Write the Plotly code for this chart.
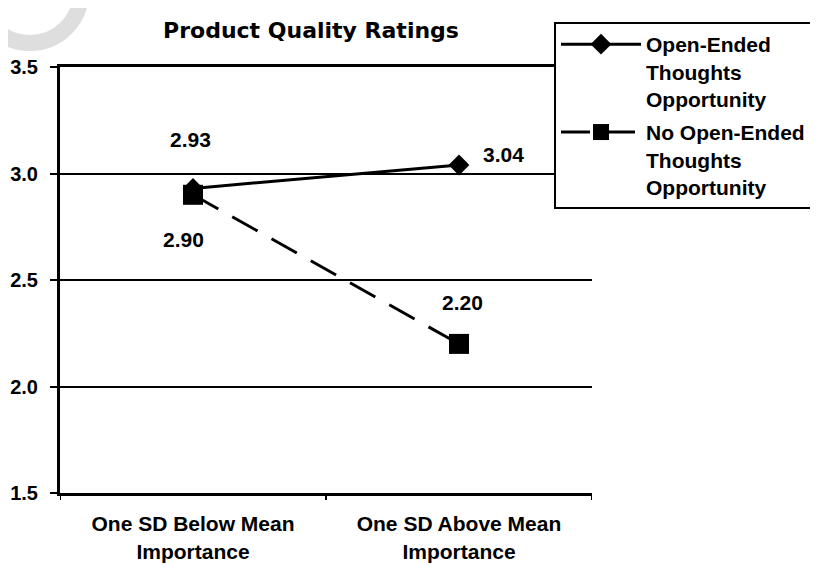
import plotly.graph_objects as go

categories = ["One SD Below Mean<br>Importance", "One SD Above Mean<br>Importance"]
open_ended = [2.93, 3.04]
no_open_ended = [2.90, 2.20]
series_names = ["Open-Ended<br>Thoughts<br>Opportunity", "No Open-Ended<br>Thoughts<br>Opportunity"]
y_ticks = [1.5, 2.0, 2.5, 3.0, 3.5]

FONT = "Liberation Sans, Arial, sans-serif"
TFONT = "DejaVu Sans, Liberation Sans, sans-serif"
OFF = 8  # default page margin of the browser
W, H = 818 - OFF, 567 - OFF
PL, PR, PT, PB = 60, 592, 67, 493  # plot area in reference pixels
PW, PH = PR - PL, PB - PT
xs = [0, 1]

fig = go.Figure()
fig.add_trace(go.Scatter(
    x=xs, y=open_ended, name=f"<b>{series_names[0]}</b>", mode="lines+markers",
    legendgroup="a",
    line=dict(color="black", width=3),
    marker=dict(symbol="diamond", size=16, color="black"),
))
fig.add_trace(go.Scatter(
    x=xs, y=no_open_ended, name=f"<b>{series_names[1]}</b>", mode="lines+markers",
    legendgroup="b",
    line=dict(color="black", width=3, dash="29px,16px"),
    marker=dict(symbol="square", size=20, color="black"),
))

lab_font = dict(family=FONT, size=21, color="black")
fig.add_annotation(x=xs[0], y=open_ended[0], text=f"<b>{open_ended[0]:.2f}</b>", showarrow=False,
                   xshift=-3, yshift=49, font=lab_font)
fig.add_annotation(x=xs[1], y=open_ended[1], text=f"<b>{open_ended[1]:.2f}</b>", showarrow=False,
                   xshift=44, yshift=10, font=lab_font)
fig.add_annotation(x=xs[0], y=no_open_ended[0], text=f"<b>{no_open_ended[0]:.2f}</b>", showarrow=False,
                   xshift=-10, yshift=-45, font=lab_font)
fig.add_annotation(x=xs[1], y=no_open_ended[1], text=f"<b>{no_open_ended[1]:.2f}</b>", showarrow=False,
                   xshift=3, yshift=41, font=lab_font)

# decorative watermark arc (top-left corner)
fig.add_shape(type="circle", xref="paper", yref="paper",
              x0=(-21 - PL) / PW, x1=(81 - PL) / PW,
              y0=(PB + 59) / PH, y1=(PB - 43) / PH,
              line=dict(color="#dedede", width=16), layer="below")

fig.update_layout(
    width=W, height=H,
    margin=dict(l=PL - OFF, r=818 - PR, t=PT - OFF, b=567 - PB, autoexpand=False),
    paper_bgcolor="white", plot_bgcolor="white",
    title=dict(text="<b>Product Quality Ratings</b>", x=(311 - OFF) / W, xanchor="center",
               y=1 - (30 - OFF) / H, yanchor="middle",
               font=dict(family=TFONT, size=22, color="black")),
    font=dict(family=FONT, size=20, color="black"),
    showlegend=True,
    legend=dict(x=(554 - PL) / PW, xanchor="left", y=1 + (PT - 22) / PH, yanchor="top",
                bordercolor="black", borderwidth=2, bgcolor="white",
                font=dict(family=FONT, size=21, color="black"),
                itemwidth=80, valign="top", tracegroupgap=3),
)
fig.update_xaxes(
    range=[-0.5, 1.5], tickvals=xs, ticktext=[f"<b>{c}</b>" for c in categories],
    showgrid=False, showline=True, linecolor="black", linewidth=3, mirror=True,
    ticks="", ticklabelstandoff=10, automargin=False,
    tickfont=dict(family=FONT, size=21, color="black"), zeroline=False,
)
fig.update_yaxes(
    range=[1.5, 3.5], tickvals=y_ticks, ticktext=[f"<b>{v:.1f}</b>" for v in y_ticks],
    showgrid=True, gridcolor="black", gridwidth=2, showline=True, linecolor="black", linewidth=3,
    ticks="outside", ticklen=7, tickwidth=2, tickcolor="black", ticklabelstandoff=8,
    automargin=False,
    tickfont=dict(family=FONT, size=20, color="black"), zeroline=False,
)
# between-category tick marks on the x axis
for xv in [-0.5, 0.5, 1.5]:
    fig.add_shape(type="line", xref="x", yref="paper", x0=xv, x1=xv, y0=0, y1=-7 / PH,
                  line=dict(color="black", width=2))

fig.write_html("out.html")
